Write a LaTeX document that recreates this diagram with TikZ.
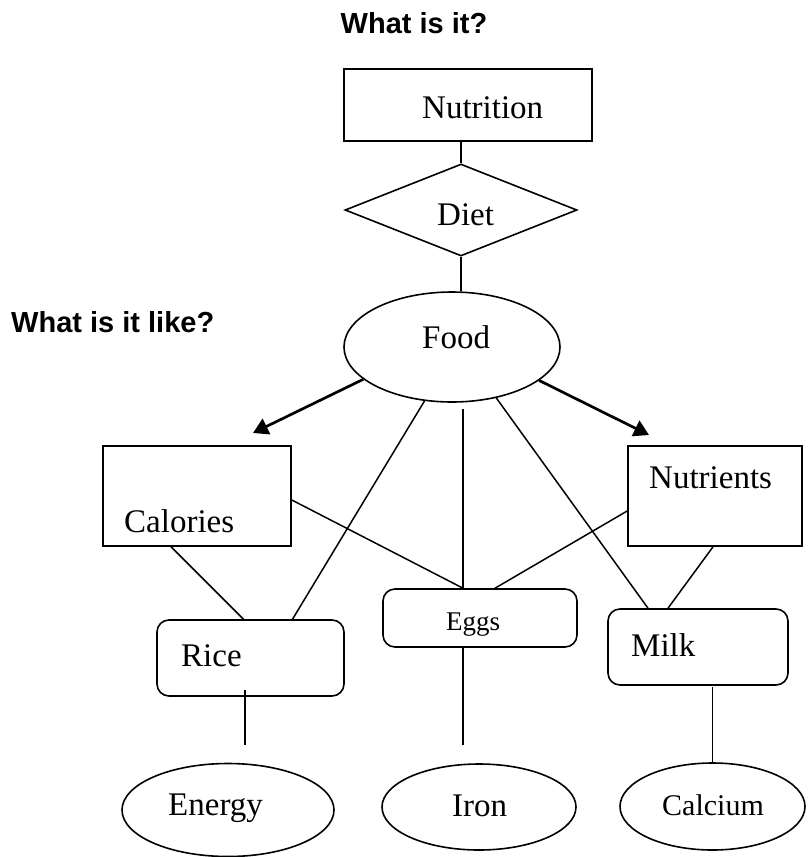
\documentclass[tikz,border=0pt]{standalone}
\usepackage{fontspec}
\setmainfont{Liberation Serif}
\newfontfamily\headfont{Liberation Sans}
\usetikzlibrary{shapes, shapes.geometric, arrows.meta, positioning}

\begin{document}
\begin{tikzpicture}[x=1pt, y=-1pt,
  box/.style={draw, line width=1.6pt, rectangle, inner sep=0pt},
  rbox/.style={box, rounded corners=12pt},
  oval/.style={draw, line width=1.6pt, ellipse, inner sep=0pt},
  gem/.style={draw, line width=1.6pt, diamond, inner sep=0pt},
  word/.style={inner sep=0pt, anchor=base west, font=\fontsize{33}{38}\selectfont},
  head/.style={inner sep=0pt, font=\headfont\bfseries\fontsize{29}{34}\selectfont},
  link/.style={line width=1.5pt},
  pointer/.style={line width=2.7pt, -{Triangle[length=15pt,width=17pt]}}]

  \useasboundingbox (0,0) rectangle (807,857);

  % questions
  \node[head, anchor=base] (q-what) at (414,33) {What is it?};
  \node[head, anchor=base west] (q-like) at (11,332) {What is it like?};

  % top of the chain
  \node[box, minimum width=248pt, minimum height=72pt] (nutrition) at (468,105) {};
  \node[word] (nutrition-txt) at (422,118) {Nutrition};
  \node[gem, minimum width=232pt, minimum height=92pt] (diet) at (461,210) {};
  \node[word] (diet-txt) at (437,225) {Diet};
  \node[oval, minimum width=216pt, minimum height=110pt] (food) at (452,347) {};
  \node[word] (food-txt) at (422,348) {Food};

  % second row
  \node[box, minimum width=188pt, minimum height=100pt] (calories) at (197,496) {};
  \node[word] (calories-txt) at (124,532) {Calories};
  \node[box, minimum width=174pt, minimum height=100pt] (nutrients) at (715,496) {};
  \node[word] (nutrients-txt) at (649,488) {Nutrients};

  % foods
  \node[rbox, minimum width=187pt, minimum height=76pt] (rice) at (250.5,658) {};
  \node[word] (rice-txt) at (181,666) {Rice};
  \node[rbox, minimum width=194pt, minimum height=58pt] (eggs) at (480,618) {};
  \node[word, font=\fontsize{27}{32}\selectfont] (eggs-txt) at (446,630) {Eggs};
  \node[rbox, minimum width=180pt, minimum height=76pt] (milk) at (698,647) {};
  \node[word] (milk-txt) at (631,656) {Milk};

  % what they give
  \node[oval, minimum width=212pt, minimum height=93pt] (energy) at (228,810) {};
  \node[word] (energy-txt) at (168,815) {Energy};
  \node[oval, minimum width=194pt, minimum height=86pt] (iron) at (479,807) {};
  \node[word] (iron-txt) at (452,816) {Iron};
  \node[oval, minimum width=185pt, minimum height=87pt] (calcium) at (712.5,806.5) {};
  \node[word, font=\fontsize{30}{34}\selectfont] (calcium-txt) at (662,815) {Calcium};

  \coordinate (cal-in) at (253,433);
  \coordinate (nut-in) at (649,435);
  \coordinate (energy-end) at (245,745);
  \coordinate (iron-end) at (463,745);

  \draw[link] (nutrition.south -| diet.north) -- (diet.north);
  \draw[link] (diet.south) -- (diet.south |- food.north);
  \draw[pointer] (food.200) -- (cal-in);
  \draw[pointer] (food.339) -- (nut-in);
  \draw[link] (food.243) -- ([shift={(42,0)}]rice.north);
  \draw[link] ([shift={(11,6)}]food.south) -- ([shift={(-17,0)}]eggs.north);
  \draw[link] (food.311) -- ([shift={(-50,0)}]milk.north);
  \draw[link] ([shift={(-26,0)}]calories.south) -- ([shift={(-7,0)}]rice.north);
  \draw[link] ([shift={(0,4)}]calories.east) -- ([shift={(-17,0)}]eggs.north);
  \draw[link] ([shift={(0,15)}]nutrients.west) -- ([shift={(15,0)}]eggs.north);
  \draw[link] ([shift={(-2,0)}]nutrients.south) -- ([shift={(-30,0)}]milk.north);
  \draw[link] ([shift={(-5.5,-7)}]rice.south) -- (energy-end);
  \draw[link] ([shift={(-17,0)}]eggs.south) -- (iron-end);
  \draw[link] (calcium.north) -- ++(0,-75);
\end{tikzpicture}
\end{document}
